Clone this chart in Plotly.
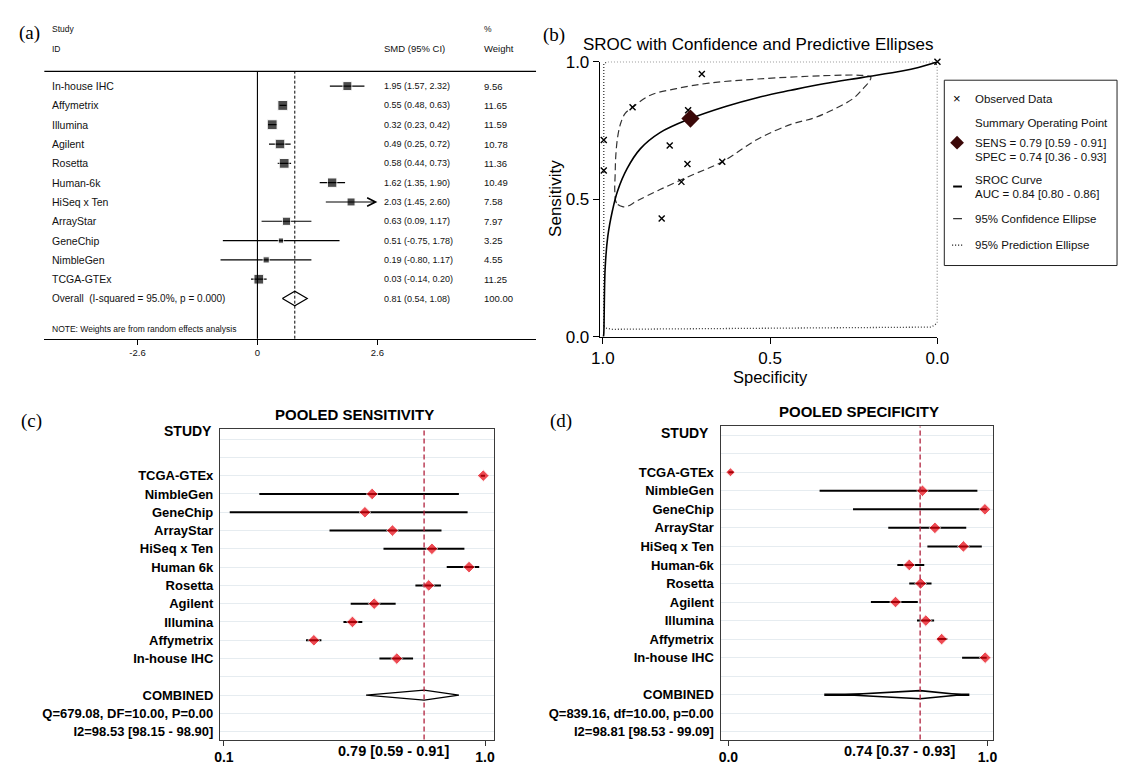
import plotly.graph_objects as go

W, H = 1131, 772
def px(x): return x / W
def py(y): return 1 - y / H

SANS = "Liberation Sans"
SERIF = "Liberation Serif"

# ---------------- (a) forest plot data ----------------
a_studies = ["In-house IHC", "Affymetrix", "Illumina", "Agilent", "Rosetta", "Human-6k",
             "HiSeq x Ten", "ArrayStar", "GeneChip", "NimbleGen", "TCGA-GTEx"]
a_smd = [1.95, 0.55, 0.32, 0.49, 0.58, 1.62, 2.03, 0.63, 0.51, 0.19, 0.03]
a_lo = [1.57, 0.48, 0.23, 0.25, 0.44, 1.35, 1.45, 0.09, -0.75, -0.80, -0.14]
a_hi = [2.32, 0.63, 0.42, 0.72, 0.73, 1.90, 2.60, 1.17, 1.78, 1.17, 0.20]
a_weight = [9.56, 11.65, 11.59, 10.78, 11.36, 10.49, 7.58, 7.97, 3.25, 4.55, 11.25]
a_overall = [0.81, 0.54, 1.08]
a_overall_label = "Overall  (I-squared = 95.0%, p = 0.000)"
a_ticks = [-2.6, 0, 2.6]
a_ticktext = ["-2.6", "0", "2.6"]

# ---------------- (b) SROC data (specificity, sensitivity) ----------------
obs_spec = [0.704, 0.911, 0.745, 0.800, 0.747, 0.643, 0.765, 0.824, 0.997, 0.997, 0.0]
obs_sens = [0.955, 0.834, 0.823, 0.695, 0.628, 0.636, 0.563, 0.430, 0.715, 0.604, 1.0]
summary_spec, summary_sens = 0.738, 0.793
sroc_spec = [0.998, 0.997, 0.993, 0.985, 0.971, 0.956, 0.927, 0.888, 0.829, 0.738, 0.633,
             0.536, 0.438, 0.340, 0.223, 0.106, 0.057, 0.0]
sroc_sens = [0.0, 0.011, 0.246, 0.365, 0.459, 0.529, 0.612, 0.683, 0.742, 0.793, 0.837,
             0.870, 0.896, 0.920, 0.943, 0.966, 0.979, 1.0]
conf_spec = [0.941, 0.959, 0.964, 0.963, 0.961, 0.955, 0.946, 0.933, 0.911, 0.858, 0.780,
             0.683, 0.537, 0.340, 0.223, 0.199, 0.205, 0.223, 0.252, 0.311, 0.370, 0.438,
             0.536, 0.643, 0.731, 0.829, 0.897, 0.927, 0.941]
conf_sens = [0.473, 0.486, 0.529, 0.589, 0.660, 0.730, 0.778, 0.812, 0.834, 0.878, 0.902,
             0.922, 0.937, 0.949, 0.950, 0.943, 0.926, 0.901, 0.866, 0.826, 0.795, 0.772,
             0.719, 0.636, 0.589, 0.535, 0.494, 0.474, 0.473]
pred_spec = [0.997, 0.997, 0.997, 0.985, 0.428, 0.006, 0.0, 0.0, 0.0, 0.018, 0.428, 0.971, 0.994, 0.997]
pred_sens = [0.039, 0.482, 0.993, 1.0, 1.0, 1.0, 0.979, 0.482, 0.05, 0.035, 0.032, 0.027, 0.032, 0.039]
b_ticks = [0.0, 0.5, 1.0]

# ---------------- (c) pooled sensitivity ----------------
c_studies = ["TCGA-GTEx", "NimbleGen", "GeneChip", "ArrayStar", "HiSeq x Ten", "Human 6k",
             "Rosetta", "Agilent", "Illumina", "Affymetrix", "In-house IHC"]
c_sens = [0.994, 0.611, 0.586, 0.681, 0.817, 0.945, 0.806, 0.618, 0.543, 0.410, 0.696]
c_lo = [0.985, 0.222, 0.120, 0.464, 0.650, 0.868, 0.760, 0.537, 0.512, 0.383, 0.636]
c_hi = [1.000, 0.910, 0.940, 0.850, 0.929, 0.980, 0.848, 0.692, 0.577, 0.436, 0.752]
c_pooled = [0.79, 0.59, 0.91]
c_stats = ["COMBINED", "Q=679.08, DF=10.00, P=0.00", "I2=98.53 [98.15 - 98.90]"]
c_mid_label = "0.79 [0.59 - 0.91]"

# ---------------- (d) pooled specificity ----------------
d_studies = ["TCGA-GTEx", "NimbleGen", "GeneChip", "ArrayStar", "HiSeq x Ten", "Human-6k",
             "Rosetta", "Agilent", "Illumina", "Affymetrix", "In-house IHC"]
d_spec = [0.008, 0.749, 0.990, 0.797, 0.907, 0.698, 0.742, 0.645, 0.762, 0.823, 0.991]
d_lo = [0.000, 0.352, 0.481, 0.617, 0.768, 0.652, 0.698, 0.550, 0.728, 0.807, 0.902]
d_hi = [0.020, 0.961, 0.997, 0.918, 0.978, 0.756, 0.784, 0.731, 0.794, 0.845, 0.997]
d_pooled = [0.74, 0.37, 0.93]
d_stats = ["COMBINED", "Q=839.16, df=10.00, p=0.00", "I2=98.81 [98.53 - 99.09]"]
d_mid_label = "0.74 [0.37 - 0.93]"

fig = go.Figure()
annots = []
shapes = []

def ann(text, x, y, xref="paper", yref="paper", xanchor="center", yanchor="middle", **font):
    d = dict(text=text, x=x, y=y, xref=xref, yref=yref, xanchor=xanchor, yanchor=yanchor,
             showarrow=False, font=dict(family=font.pop("family", SANS), **font))
    annots.append(d)
    return d

# ======================= (a) =======================
xs, ys = [], []
for i, (l, h) in enumerate(zip(a_lo, a_hi)):
    if a_studies[i] == "HiSeq x Ten":
        continue
    xs += [l, h, None]
    ys += [i, i, None]
fig.add_trace(go.Scatter(x=xs, y=ys, mode="lines", line=dict(color="black", width=1.2),
                         xaxis="x", yaxis="y", hoverinfo="skip", showlegend=False))
hi_idx = a_studies.index("HiSeq x Ten")
annots.append(dict(x=a_hi[hi_idx], y=hi_idx, ax=a_lo[hi_idx], ay=hi_idx, xref="x", yref="y",
                   axref="x", ayref="y", showarrow=True, arrowhead=5, arrowsize=1.5,
                   arrowwidth=1.1, arrowcolor="black", text=""))
fig.add_trace(go.Scatter(x=a_smd, y=list(range(len(a_smd))), mode="markers",
                         marker=dict(symbol="square", color="black",
                                     size=[2.9 * w ** 0.5 for w in a_weight]),
                         xaxis="x", yaxis="y", hoverinfo="skip", showlegend=False))
ov_row = len(a_studies)
fig.add_trace(go.Scatter(x=[a_overall[1], a_overall[0], a_overall[2], a_overall[0], a_overall[1]],
                         y=[ov_row, ov_row - 0.38, ov_row, ov_row + 0.38, ov_row],
                         mode="lines", fill="toself", fillcolor="white",
                         line=dict(color="black", width=1.2),
                         xaxis="x", yaxis="y", hoverinfo="skip", showlegend=False))
shapes.append(dict(type="line", xref="paper", yref="paper", x0=px(36), x1=px(537),
                   y0=py(64), y1=py(64), line=dict(color="black", width=1.2)))
shapes.append(dict(type="line", xref="x", yref="y domain", x0=0, x1=0, y0=0, y1=1,
                   line=dict(color="black", width=1.1)))
shapes.append(dict(type="line", xref="x", yref="y domain", x0=a_overall[0], x1=a_overall[0],
                   y0=0, y1=1, line=dict(color="black", width=1, dash="3px,2px")))

txt = "#111111"
for i, name in enumerate(a_studies):
    ann(name, px(42), i, yref="y", xanchor="left", size=10.5, color=txt)
    ann(f"{a_smd[i]:.2f} ({a_lo[i]:.2f}, {a_hi[i]:.2f})", px(380), i, yref="y", xanchor="left",
        size=9, color=txt)
    ann(f"{a_weight[i]:.2f}", px(482), i, yref="y", xanchor="left", size=9.5, color=txt)
ann(a_overall_label, px(42), ov_row, yref="y", xanchor="left", size=10, color=txt)
ann(f"{a_overall[0]:.2f} ({a_overall[1]:.2f}, {a_overall[2]:.2f})", px(380), ov_row, yref="y",
    xanchor="left", size=9, color=txt)
ann("100.00", px(482), ov_row, yref="y", xanchor="left", size=9.5, color=txt)
for (tx, x0, y0, sz) in [("Study", 42, 20, 8.5), ("ID", 42, 41, 8.5), ("SMD (95% CI)", 380, 41, 9.5),
                          ("%", 482, 20, 8.5), ("Weight", 482, 41, 9.5),
                          ("NOTE: Weights are from random effects analysis", 42, 328, 8.5)]:
    ann(tx, px(x0), py(y0), xanchor="left", size=sz, color=txt)

# ======================= (b) =======================
fig.add_trace(go.Scatter(x=pred_spec, y=pred_sens, mode="lines",
                         line=dict(color="#333", width=1.3, dash="1px,2px"),
                         xaxis="x2", yaxis="y2", hoverinfo="skip", showlegend=False, cliponaxis=False))
fig.add_trace(go.Scatter(x=conf_spec, y=conf_sens, mode="lines",
                         line=dict(color="#333", width=1.2, dash="7px,4px", shape="spline"),
                         xaxis="x2", yaxis="y2", hoverinfo="skip", showlegend=False))
fig.add_trace(go.Scatter(x=sroc_spec, y=sroc_sens, mode="lines",
                         line=dict(color="black", width=1.6, shape="spline"),
                         xaxis="x2", yaxis="y2", hoverinfo="skip", showlegend=False, cliponaxis=False))
fig.add_trace(go.Scatter(x=obs_spec, y=obs_sens, mode="markers",
                         marker=dict(symbol="x-thin", size=6, line=dict(color="black", width=1.4)),
                         xaxis="x2", yaxis="y2", hoverinfo="skip", showlegend=False, cliponaxis=False))
fig.add_trace(go.Scatter(x=[summary_spec], y=[summary_sens], mode="markers",
                         marker=dict(symbol="diamond", size=14, color="#3b0808"),
                         xaxis="x2", yaxis="y2", hoverinfo="skip", showlegend=False))
ann("SROC with Confidence and Predictive Ellipses", px(583), py(36), xanchor="left", size=17, color="black")
d = ann("Sensitivity", px(557), py(194), size=17, color="black")
d["textangle"] = -90
ann("Specificity", px(776), py(377), size=16.5, color="black")
# legend box
shapes.append(dict(type="rect", xref="paper", yref="paper", x0=px(953), x1=px(1129),
                   y0=py(263), y1=py(73), line=dict(color="#222", width=1)))
leg = [("Observed Data", 92), ("Summary Operating Point", 117), ("SENS = 0.79 [0.59 - 0.91]", 137),
       ("SPEC = 0.74 [0.36 - 0.93]", 152), ("SROC Curve", 175), ("AUC = 0.84 [0.80 - 0.86]", 190),
       ("95% Confidence Ellipse", 215), ("95% Prediction Ellipse", 242)]
for t, yy in leg:
    ann(t, px(982), py(yy), xanchor="left", size=11.5, color="#111")
ann("×", px(966), py(92), size=13, color="black")
cx, cy, r = 966, 137, 7
shapes.append(dict(type="path", xref="paper", yref="paper", fillcolor="#3b0808", line=dict(width=0),
                   path=f"M{px(cx - r)},{py(cy)} L{px(cx)},{py(cy - r)} L{px(cx + r)},{py(cy)} L{px(cx)},{py(cy + r)} Z"))
shapes.append(dict(type="line", xref="paper", yref="paper", x0=px(962), x1=px(971), y0=py(182), y1=py(182),
                   line=dict(color="black", width=2)))
shapes.append(dict(type="line", xref="paper", yref="paper", x0=px(962), x1=px(971), y0=py(215), y1=py(215),
                   line=dict(color="black", width=1)))
shapes.append(dict(type="line", xref="paper", yref="paper", x0=px(961), x1=px(972), y0=py(242), y1=py(242),
                   line=dict(color="black", width=1.3, dash="1px,2px")))

# ======================= (c) & (d) =======================
red = "#e8000b"
dashred = "#b0203c"

def forest(vals, lo, hi, xa, ya, tcga_small):
    rows = [i + 2 for i in range(len(vals))]
    xs, ys = [], []
    for l, h, rw in zip(lo, hi, rows):
        xs += [l, h, None]
        ys += [rw, rw, None]
    fig.add_trace(go.Scatter(x=xs, y=ys, mode="lines", line=dict(color="black", width=2),
                             xaxis=xa, yaxis=ya, hoverinfo="skip", showlegend=False))
    fig.add_trace(go.Scatter(x=vals, y=rows, mode="markers",
                             marker=dict(symbol="diamond", color=red,
                                         size=[7 if (tcga_small and k == 0) else 9 for k in range(len(vals))]),
                             xaxis=xa, yaxis=ya, hoverinfo="skip", showlegend=False, cliponaxis=False))

forest(c_sens, c_lo, c_hi, "x3", "y3", False)
forest(d_spec, d_lo, d_hi, "x4", "y4", True)

# combined diamonds
fig.add_trace(go.Scatter(x=[c_pooled[1], c_pooled[0], c_pooled[2], c_pooled[0], c_pooled[1]],
                         y=[14, 13.73, 14, 14.27, 14], mode="lines", fill="toself", fillcolor="white",
                         line=dict(color="black", width=1.3), xaxis="x3", yaxis="y3",
                         hoverinfo="skip", showlegend=False))
fig.add_trace(go.Scatter(x=[d_pooled[1], d_pooled[2]], y=[14, 14], mode="lines",
                         line=dict(color="black", width=2.5), xaxis="x4", yaxis="y4",
                         hoverinfo="skip", showlegend=False))
fig.add_trace(go.Scatter(x=[0.45, d_pooled[0], 0.90, d_pooled[0], 0.45],
                         y=[14, 13.78, 14, 14.22, 14], mode="lines", fill="toself", fillcolor="white",
                         line=dict(color="black", width=1.6), xaxis="x4", yaxis="y4",
                         hoverinfo="skip", showlegend=False))

for xa, ya, v in [("x3", "y3", c_pooled[0]), ("x4", "y4", d_pooled[0])]:
    shapes.append(dict(type="line", xref=xa, yref=ya + " domain", x0=v, x1=v, y0=0, y1=1,
                       line=dict(color=dashred, width=1.3, dash="5px,3px")))

def row_text(studies, stats):
    return ["", ""] + studies + ["", stats[0], stats[1], stats[2]]

ann("POOLED SENSITIVITY", px(352), py(416), size=15, color="black", weight="bold")
ann("POOLED SPECIFICITY", px(866), py(413), size=15, color="black", weight="bold")
ann("STUDY", px(209), py(433), xanchor="right", size=14, color="black", weight="bold")
ann("STUDY", px(715), py(435), xanchor="right", size=14, color="black", weight="bold")
ann(c_mid_label, px(392), py(761), size=14.5, color="black", weight="bold")
ann(d_mid_label, px(907), py(761), size=14.5, color="black", weight="bold")

# panel labels
for t, x0, y0 in [("(a)", 21, 25), ("(b)", 555, 27), ("(c)", 23, 422), ("(d)", 562, 422)]:
    ann(t, px(x0), py(y0), family=SERIF, size=19, color="black")

box_axis = dict(showline=True, linecolor="#3a3a3a", linewidth=1.2, mirror=True, zeroline=False)
fig.update_layout(
    width=W, height=H, margin=dict(l=0, r=0, t=0, b=0),
    paper_bgcolor="white", plot_bgcolor="white", showlegend=False,
    xaxis=dict(domain=[px(36), px(537)], range=[-4.62, 6.04], anchor="y", showline=True,
               linecolor="black", linewidth=1.2, ticks="outside", ticklen=5, tickcolor="black",
               tickvals=a_ticks, ticktext=a_ticktext, showgrid=False, zeroline=False,
               tickfont=dict(family=SANS, size=9.5, color=txt)),
    yaxis=dict(domain=[py(338), py(64)], range=[13.08, -0.76], visible=False, anchor="x"),
    xaxis2=dict(domain=[px(602), px(946)], range=[1.0088, 0], anchor="y2", showline=True,
                linecolor="black", linewidth=1.2, ticks="outside", ticklen=6, tickcolor="black",
                tickvals=b_ticks, tickformat=".1f", showgrid=False, zeroline=False,
                tickfont=dict(family=SANS, size=17, color="black")),
    yaxis2=dict(domain=[py(336), py(54)], range=[0, 1], anchor="x2", showline=True,
                linecolor="black", linewidth=1.2, ticks="outside", ticklen=6, tickcolor="black",
                tickvals=b_ticks, tickformat=".1f", showgrid=False, zeroline=False,
                tickfont=dict(family=SANS, size=17, color="black")),
    xaxis3=dict(domain=[px(215), px(494)], range=[0.0865, 1.0304], anchor="y3", ticks="outside",
                ticklen=5, tickcolor="#333", tickvals=[0.1, 1.0], ticktext=["0.1", "1.0"],
                showgrid=False, tickfont=dict(family=SANS, size=14, color="black", weight="bold"),
                **box_axis),
    yaxis3=dict(domain=[py(749), py(431)], range=[16.43, -0.53], anchor="x3", tickvals=list(range(17)),
                ticktext=row_text(c_studies, c_stats), ticks="", showgrid=True, gridcolor="#e6ecf0",
                gridwidth=1, ticklabelstandoff=3,
                tickfont=dict(family=SANS, size=13, color="black", weight="bold"), **box_axis),
    xaxis4=dict(domain=[px(725), px(1003)], range=[-0.0303, 1.0227], anchor="y4", ticks="outside",
                ticklen=5, tickcolor="#333", tickvals=[0.0, 1.0], ticktext=["0.0", "1.0"],
                showgrid=False, tickfont=dict(family=SANS, size=14, color="black", weight="bold"),
                **box_axis),
    yaxis4=dict(domain=[py(749), py(428)], range=[16.42, -0.47], anchor="x4", tickvals=list(range(17)),
                ticktext=row_text(d_studies, d_stats), ticks="", showgrid=True, gridcolor="#e6ecf0",
                gridwidth=1, ticklabelstandoff=3,
                tickfont=dict(family=SANS, size=13, color="black", weight="bold"), **box_axis),
    annotations=annots, shapes=shapes,
)

fig.write_html("out.html",
               post_script="document.body.style.margin='0';document.body.style.padding='0';document.body.style.overflow='hidden';")
